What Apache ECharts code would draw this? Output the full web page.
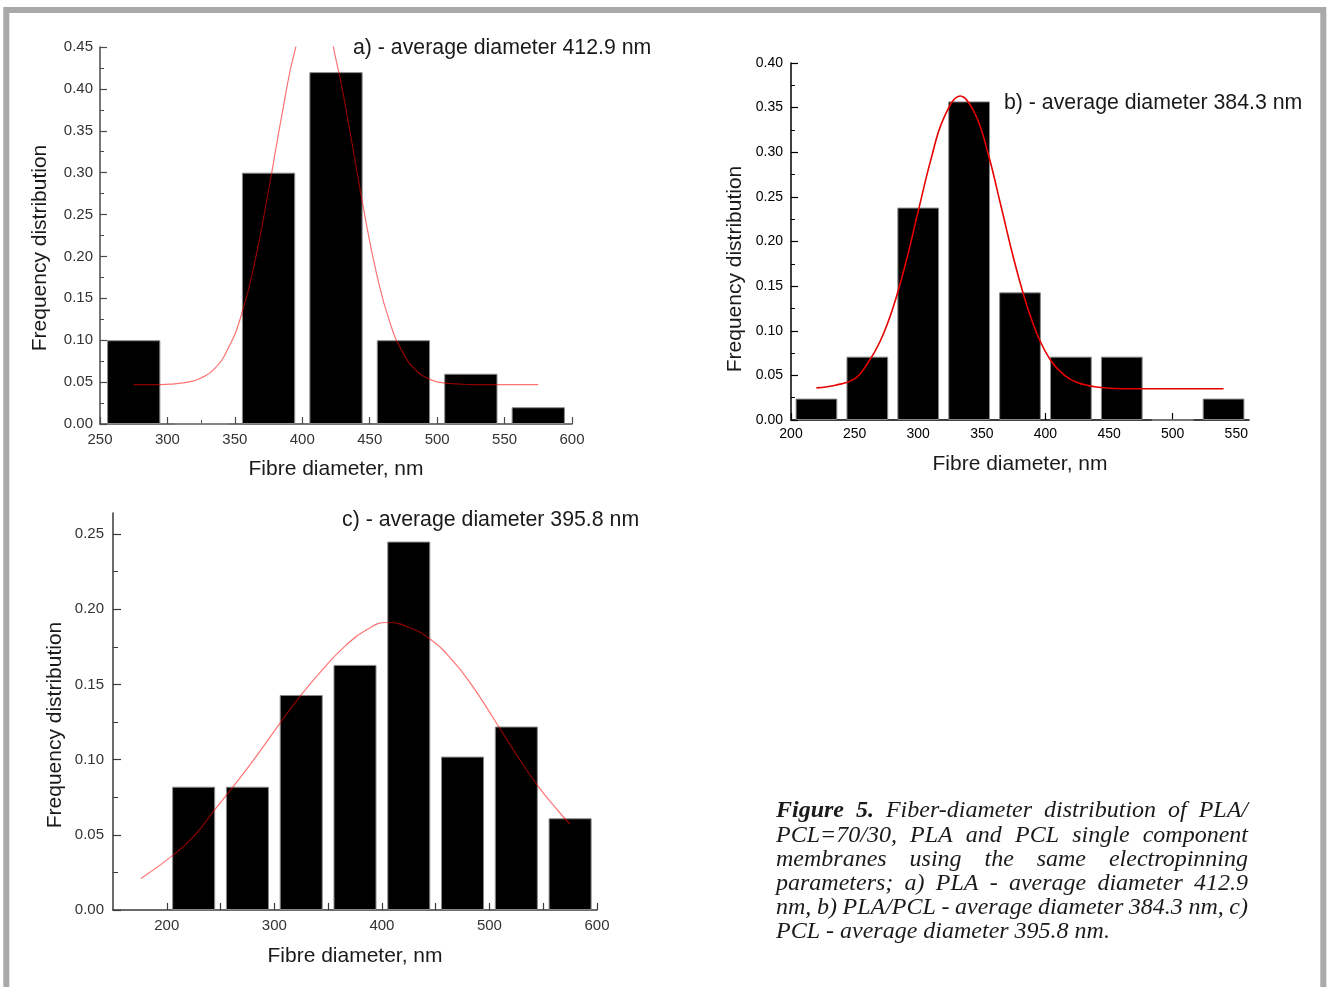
<!DOCTYPE html>
<html>
<head>
<meta charset="utf-8">
<script src="https://cdn.jsdelivr.net/npm/echarts@6/dist/echarts.min.js"></script>
<style>
html,body{margin:0;padding:0;background:#fff;}
#chart{width:1330px;height:987px;}
</style>
</head>
<body>
<div id="chart"></div>
<script>
// ---------- data ----------
// a) PLA
const aBinCenters = [275, 325, 375, 425, 475, 525, 575];
const aFrequency  = [0.10, 0, 0.30, 0.42, 0.10, 0.06, 0.02];
const aFitX = [275, 285, 295, 305, 315, 325, 335, 345, 355, 365, 375, 385, 395, 405, 415, 425, 435, 445, 455, 465, 475, 485, 495, 505, 515, 525, 535, 545, 555, 565, 575];
const aFitY = [0.047, 0.047, 0.047, 0.048, 0.050, 0.055, 0.066, 0.090, 0.131, 0.195, 0.279, 0.370, 0.449, 0.493, 0.488, 0.435, 0.352, 0.261, 0.180, 0.121, 0.084, 0.063, 0.053, 0.049, 0.048, 0.047, 0.047, 0.047, 0.047, 0.047, 0.047];
const aXTickLabels = [250, 300, 350, 400, 450, 500, 550, 600];
const aYTickLabels = [0, 0.05, 0.10, 0.15, 0.20, 0.25, 0.30, 0.35, 0.40, 0.45];

// b) PLA/PCL
const bBinCenters = [220, 260, 300, 340, 380, 420, 460, 500, 540];
const bFrequency  = [0.024, 0.071, 0.238, 0.357, 0.143, 0.071, 0.071, 0, 0.024];
const bFitX = [220, 235, 250, 260, 270, 280, 290, 300, 310, 320, 333, 345, 355, 365, 375, 385, 395, 405, 415, 425, 440, 460, 500, 540];
const bFitY = [0.036, 0.039, 0.046, 0.063, 0.088, 0.125, 0.175, 0.234, 0.292, 0.338, 0.363, 0.342, 0.298, 0.240, 0.181, 0.130, 0.091, 0.065, 0.050, 0.042, 0.037, 0.035, 0.035, 0.035];
const bXTickLabels = [200, 250, 300, 350, 400, 450, 500, 550];
const bYTickLabels = [0, 0.05, 0.10, 0.15, 0.20, 0.25, 0.30, 0.35, 0.40];

// c) PCL
const cBinCenters = [225, 275, 325, 375, 425, 475, 525, 575];
const cFrequency  = [0.082, 0.082, 0.143, 0.163, 0.245, 0.102, 0.122, 0.061];
const cFitX = [176, 205, 225, 245, 265, 285, 305, 325, 345, 365, 385, 405, 425, 445, 465, 485, 505, 525, 545, 565, 575];
const cFitY = [0.021, 0.036, 0.049, 0.067, 0.085, 0.104, 0.124, 0.143, 0.160, 0.175, 0.186, 0.1912, 0.188, 0.180, 0.1665, 0.148, 0.126, 0.1035, 0.0825, 0.065, 0.057];
const cXTickLabels = [200, 300, 400, 500, 600];
const cXTicks = [200, 250, 300, 350, 400, 450, 500, 550, 600];
const cYTickLabels = [0, 0.05, 0.10, 0.15, 0.20, 0.25];

// texts
const titles = ['a) - average diameter 412.9 nm', 'b) - average diameter 384.3 nm', 'c) - average diameter 395.8 nm'];
const xName = 'Fibre diameter, nm';
const yName = 'Frequency distribution';
const captionLines = [
  'Figure 5. Fiber-diameter distribution of PLA/',
  'PCL=70/30, PLA and PCL single component',
  'membranes using the same electropinning',
  'parameters; a) PLA - average diameter 412.9',
  'nm, b) PLA/PCL - average diameter 384.3 nm, c)',
  'PCL - average diameter 395.8 nm.'
];
const captionBoldWords = 2;

// ---------- helpers ----------
const zip = (xs, ys) => xs.map((x, i) => [x, ys[i]]);
const SANS = 'Liberation Sans';

function mkX(gi, min, max, interval, labels, ticks, o) {
  return {
    type: 'value', gridIndex: gi, min: min, max: max, interval: interval,
    name: xName, nameLocation: 'middle', nameGap: o.nameGap,
    nameTextStyle: {fontFamily: SANS, fontSize: 21, color: '#1a1a1a'},
    axisLine: {show: true, onZero: false, lineStyle: {color: o.lineColor, width: 1.5}},
    axisTick: {show: true, inside: true, length: 7, customValues: ticks, lineStyle: {color: o.lineColor, width: 1.2}},
    minorTick: {show: o.minor, splitNumber: 2, length: 4, lineStyle: {color: o.lineColor, width: 1}},
    axisLabel: {
      customValues: labels, margin: o.labelMargin, fontFamily: SANS, fontSize: o.labelSize, color: o.labelColor,
      formatter: v => labels.indexOf(v) >= 0 ? String(v) : ''
    },
    splitLine: {show: false}
  };
}
function mkY(gi, min, max, interval, labels, o) {
  return {
    type: 'value', gridIndex: gi, min: min, max: max, interval: interval,
    name: yName, nameLocation: 'middle', nameGap: o.nameGap,
    nameTextStyle: {fontFamily: SANS, fontSize: 21, color: '#1a1a1a', padding: [0, o.shift, 0, 0]},
    axisLine: {show: true, onZero: false, lineStyle: {color: o.lineColor, width: 1.5}},
    axisTick: {show: true, inside: true, length: o.tickLen, customValues: labels, lineStyle: {color: o.lineColor, width: 1.2}},
    minorTick: {show: true, splitNumber: 2, length: o.minorLen, lineStyle: {color: o.lineColor, width: 1}},
    axisLabel: {
      customValues: labels, margin: o.labelMargin, fontFamily: SANS, fontSize: o.labelSize, color: o.labelColor,
      formatter: v => labels.some(l => Math.abs(l - v) < 1e-9) ? v.toFixed(2) : ''
    },
    splitLine: {show: false}
  };
}

const barStyle = {color: '#000', borderColor: '#8a8a8a', borderWidth: 1};

// ---------- caption (justified, word by word) ----------
const measureCtx = document.createElement('canvas').getContext('2d');
const FONT_I = 'italic 24px "Liberation Serif"';
const FONT_BI = 'italic bold 24px "Liberation Serif"';
function textWidth(t, f) { measureCtx.font = f; return measureCtx.measureText(t).width; }
const capLeft = 776, capRight = 1248, capTop = 811, capStep = 24.2;
const captionElements = [];
captionLines.forEach((line, li) => {
  const words = line.split(' ');
  const fonts = words.map((w, wi) => (li === 0 && wi < captionBoldWords) ? FONT_BI : FONT_I);
  const widths = words.map((w, wi) => textWidth(w, fonts[wi]));
  const total = widths.reduce((s, w) => s + w, 0);
  const last = li === captionLines.length - 1;
  const gap = last ? textWidth(' ', FONT_I) : (capRight - capLeft - total) / (words.length - 1);
  let x = capLeft;
  words.forEach((w, wi) => {
    captionElements.push({
      type: 'text', x: x, y: capTop + li * capStep, silent: true,
      style: {text: w, font: fonts[wi], fill: '#1a1a1a', verticalAlign: 'middle', align: 'left'}
    });
    x += widths[wi] + gap;
  });
});

// ---------- option ----------
const darkA = '#4a4a4a', darkC = '#3a3a3a';
const titleStyle = {fontFamily: SANS, fontSize: 21.3, fontWeight: 'normal', color: '#1a1a1a'};
const option = {
  animation: false,
  backgroundColor: '#fff',
  title: [
    {text: titles[0], left: 353, top: 38, padding: 0, textStyle: titleStyle},
    {text: titles[1], left: 1004, top: 93, padding: 0, textStyle: titleStyle},
    {text: titles[2], left: 342, top: 510, padding: 0, textStyle: titleStyle}
  ],
  grid: [
    {left: 100, top: 47, width: 472, height: 377},
    {left: 791, top: 63, width: 458, height: 357},
    {left: 113, top: 513, width: 484, height: 397}
  ],
  xAxis: [
    mkX(0, 250, 600, 50, aXTickLabels, aXTickLabels, {nameGap: 35, lineColor: darkA, labelMargin: 8, labelSize: 15, labelColor: '#333', minor: true}),
    mkX(1, 200, 560, 50, bXTickLabels, bXTickLabels, {nameGap: 34, lineColor: '#000', labelMargin: 7, labelSize: 14, labelColor: '#000', minor: true}),
    mkX(2, 150, 600, 50, cXTickLabels, cXTicks, {nameGap: 36, lineColor: darkC, labelMargin: 8, labelSize: 15, labelColor: '#333', minor: false})
  ],
  yAxis: [
    mkY(0, 0, 0.45, 0.05, aYTickLabels, {nameGap: 49, shift: 25, lineColor: darkA, tickLen: 7, minorLen: 4, labelMargin: 7, labelSize: 15, labelColor: '#333'}),
    mkY(1, 0, 0.40, 0.05, bYTickLabels, {nameGap: 45, shift: 55, lineColor: '#000', tickLen: 7, minorLen: 4, labelMargin: 8, labelSize: 14, labelColor: '#000'}),
    mkY(2, 0, 0.264, 0.05, cYTickLabels, {nameGap: 47, shift: 27, lineColor: darkC, tickLen: 8, minorLen: 5, labelMargin: 9, labelSize: 15, labelColor: '#333'})
  ],
  series: [
    {type: 'bar', xAxisIndex: 0, yAxisIndex: 0, data: zip(aBinCenters, aFrequency), barWidth: '79%', itemStyle: barStyle, silent: true},
    {type: 'line', xAxisIndex: 0, yAxisIndex: 0, data: zip(aFitX, aFitY), smooth: 0.5, symbol: 'none', clip: true,
      lineStyle: {color: 'rgba(255,0,0,0.55)', width: 1.2}, silent: true},
    {type: 'bar', xAxisIndex: 1, yAxisIndex: 1, data: zip(bBinCenters, bFrequency), barWidth: '82%', itemStyle: barStyle, silent: true},
    {type: 'line', xAxisIndex: 1, yAxisIndex: 1, data: zip(bFitX, bFitY), smooth: 0.4, symbol: 'none', clip: true,
      lineStyle: {color: '#e60000', width: 1.6}, silent: true},
    {type: 'bar', xAxisIndex: 2, yAxisIndex: 2, data: zip(cBinCenters, cFrequency), barWidth: '80%', itemStyle: barStyle, silent: true},
    {type: 'line', xAxisIndex: 2, yAxisIndex: 2, data: zip(cFitX, cFitY), smooth: 0.5, symbol: 'none', clip: true,
      lineStyle: {color: 'rgba(255,0,0,0.55)', width: 1.2}, silent: true}
  ],
  graphic: [
    {type: 'rect', silent: true, z: -1, shape: {x: 6.3, y: 10, width: 1317, height: 1000},
      style: {fill: 'none', stroke: '#a9a9a9', lineWidth: 6}}
  ].concat(captionElements)
};

const chart = echarts.init(document.getElementById('chart'), null, {renderer: 'canvas'});
chart.setOption(option);
</script>
</body>
</html>
